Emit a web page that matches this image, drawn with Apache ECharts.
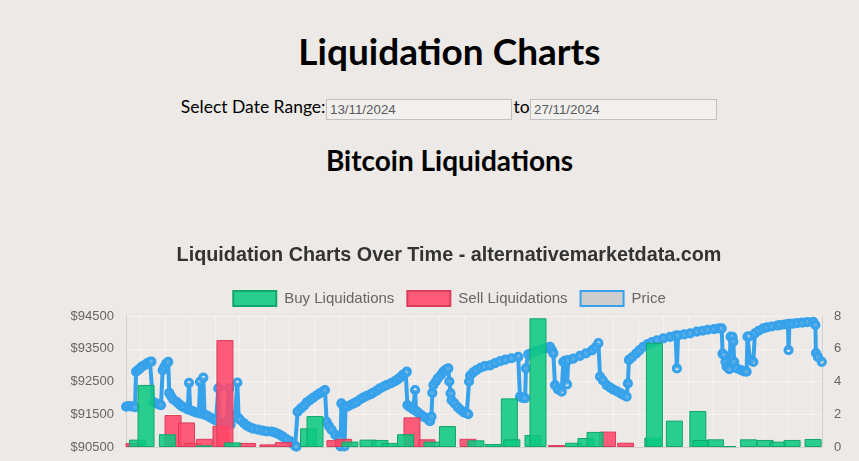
<!DOCTYPE html>
<html>
<head>
<meta charset="utf-8">
<title>Liquidation Charts</title>
<script src="https://cdn.jsdelivr.net/npm/echarts@6/dist/echarts.min.js"></script>
<style>
  html, body { margin: 0; padding: 0; width: 859px; height: 461px; overflow: hidden; background: #ece9e6; }
  .t1 { position: absolute; left: 40px; width: 819px; top: 31.5px; margin: 0; text-align: center;
        font: 700 37px/37px Lato, "Noto Sans", sans-serif; color: #000; }
  .lbl { position: absolute; top: 97.6px; font: 400 17.5px/17.5px Lato, "Noto Sans", sans-serif; color: #000; white-space: nowrap; }
  .inp { position: absolute; top: 99px; height: 21px; box-sizing: border-box; padding: 1px 3px;
         border: 1px solid #c2c0be; background: #f1f0ee; color: #5a5a5a;
         font: 13.33px "Liberation Sans", Arial, sans-serif; outline: none; }
  .t2 { position: absolute; left: 40px; width: 819px; top: 146px; margin: 0; text-align: center;
        font: 700 28px/28px Lato, "Noto Sans", sans-serif; color: #000; }
  #chart { position: absolute; left: 39px; top: 230px; width: 820px; height: 260px; }
</style>
</head>
<body>
<h1 class="t1">Liquidation Charts</h1>
<span class="lbl" style="right:533.5px;">Select Date Range:</span>
<input class="inp" style="left:326px;width:186px;" type="text" value="13/11/2024" readonly>
<span class="lbl" style="left:513.5px;">to</span>
<input class="inp" style="left:530px;width:187px;" type="text" value="27/11/2024" readonly>
<h2 class="t2">Bitcoin Liquidations</h2>
<div id="chart"></div>
<script>
// Time origin: 13/11/2024 00:00 UTC; all times below are hours after it.
const startDate = Date.UTC(2024, 10, 13);
const axisStartHour = 5.25;
const axisEndHour = 340.5;

const priceHours = [
  5.3, 6.5, 8.0, 9.6, 10.1, 11.0, 12.0, 13.0, 14.4, 15.5, 16.8, 17.5,
  18.3, 19.5, 21.0, 22.1, 22.9, 23.7, 24.6, 25.6, 26.1, 27.0, 28.0, 29.7,
  31.0, 32.2, 33.5, 35.0, 35.6, 36.2, 37.5, 39.0, 40.4, 40.9, 41.4, 42.5,
  43.1, 44.3, 46.0, 47.3, 48.6, 49.7, 50.3, 52.0, 53.5, 55.0, 55.6, 56.5,
  57.7, 58.9, 59.5, 60.2, 62.0, 63.4, 65.0, 66.5, 68.8, 71.0, 73.0, 75.4,
  77.0, 78.5, 80.0, 81.0, 82.5, 84.3, 85.5, 86.7, 87.3,
  87.9, 89.5, 91.0, 92.3, 94.0, 95.5, 97.1, 98.5, 100.0, 101.1, 101.9, 103.0,
  104.3, 106.0, 107.5, 108.3, 108.6, 109.0, 110.0, 110.5, 111.0, 112.0, 113.6, 115.0,
  116.4, 118.0, 119.5, 121.2, 123.0, 124.2, 126.0, 127.6, 129.5, 131.0, 133.0, 134.8,
  136.0, 137.2, 138.5, 140.0, 140.5,
  140.8, 141.8, 142.5, 143.6, 144.5, 145.0, 146.0, 147.3, 148.7, 150.1, 151.2, 151.7,
  152.4, 152.8, 153.3, 154.5, 155.5, 157.0, 158.1, 159.3, 160.5, 161.0, 161.6, 162.1,
  163.5, 165.0, 166.5, 168.0, 169.4, 170.1,
  170.5, 171.0, 172.5, 174.0, 176.0, 178.0, 180.6, 183.0, 185.5, 188.0, 191.0, 194.2,
  195.0, 196.3, 197.5, 197.9, 199.0, 200.5, 202.3, 204.0, 205.6, 207.5, 209.5, 210.5,
  211.1, 211.9, 213.3, 215.1, 215.9, 216.8, 217.7, 218.3, 220.7, 223.9, 226.8, 229.7,
  231.5, 232.8,
  233.6, 235.0, 236.8, 238.5, 240.0, 241.8, 243.5, 244.8, 246.4, 247.0, 247.5, 249.0,
  250.9, 252.5, 254.4, 256.5, 258.6, 261.0, 264.1, 267.3, 270.0, 270.6, 271.2, 274.1,
  277.0, 280.2, 283.0, 285.5, 288.5, 291.0, 292.2,
  292.6, 293.2, 294.0, 294.6, 295.8, 296.5, 297.4, 297.8, 298.2, 299.5, 301.5, 303.0,
  304.2, 304.6, 305.5, 305.8, 307.4, 308.2, 310.0, 312.2, 314.0, 316.4, 319.0, 320.3,
  322.5, 324.1, 324.4, 324.8, 326.5, 328.5, 331.0, 333.5, 336.3, 337.3, 337.6, 338.5,
  340.4
];
const priceValues = [
  91730, 91750, 91740, 91720, 92800, 92850, 92900, 92960, 93010, 93060, 93100, 93110,
  91880, 91840, 91800, 91780, 92850, 92950, 93050, 93100, 92150, 92050, 91950, 91880,
  91800, 91740, 91700, 91650, 92460, 91630, 91590, 91560, 91530, 92490, 91520, 92620,
  91490, 91460, 91400, 91350, 91310, 92290, 91260, 91230, 91200, 92290, 91180, 91400,
  91440, 92470, 91380, 91330, 91230, 91150, 91100, 91060, 91030, 91000, 90980, 90970,
  90940, 90900, 90850, 90810, 90740, 90680, 90600, 90530, 90510,
  91580, 91680, 91760, 91860, 91940, 92010, 92080, 92140, 92190, 92240, 91270, 91140,
  91020, 90880, 90780, 90740, 90520, 91830, 91740, 90520, 91720, 91740, 91790, 91830,
  91880, 91950, 92010, 92060, 92110, 92150, 92220, 92290, 92350, 92400, 92450, 92510,
  92560, 92620, 92700, 92760, 92800,
  91780, 91730, 91700, 91650, 92240, 91600, 91550, 91480, 91420, 91380, 91320, 91290,
  91430, 92150, 92390, 92500, 92600, 92700, 92800, 92860, 92900, 92500, 92140, 91930,
  91830, 91720, 91630, 91560, 91530, 91500,
  92500, 92680, 92780, 92850, 92920, 92970, 92990, 93060, 93120, 93170, 93210, 93250,
  92040, 92000, 91990, 92900, 93330, 93370, 93420, 93460, 93490, 93520, 93560, 93450,
  93360, 92390, 92260, 92190, 93100, 93140, 92410, 93150, 93200, 93280, 93360, 93450,
  93550, 93670,
  92650, 92530, 92390, 92310, 92250, 92200, 92140, 92090, 92040, 92440, 93160, 93240,
  93350, 93450, 93560, 93640, 93700, 93760, 93820, 93860, 93900, 92900, 93910, 93940,
  93970, 94020, 94050, 94080, 94100, 94120, 94120,
  93350, 93310, 93100, 92950, 92880, 93870, 93860, 93720, 93100, 92900, 92850, 92810,
  92800, 93870, 93880, 93160, 93100, 93970, 94050, 94120, 94150, 94180, 94210, 94220,
  94240, 94260, 93460, 94260, 94270, 94280, 94300, 94310, 94325, 94225, 93370, 93250,
  93100
];

const buyHours = [
  10.8, 14.9, 25.2, 42.8, 56.5, 93.2, 96.3, 113.1, 121.8, 127.6, 132.4, 139.9,
  152.6, 160.1, 173.8, 182.0, 189.9, 191.1, 201.3, 203.7, 220.8, 226.8, 231.2, 259.0,
  259.8, 269.4, 280.7, 282.2, 289.2, 295.2, 305.1, 313.1, 319.3, 326.1, 336.2
];
const buyValues = [
  0.45, 3.79, 0.78, 0.10, 0.28, 1.14, 1.89, 0.33, 0.45, 0.43, 0.25, 0.78,
  0.33, 1.28, 0.41, 0.18, 2.97, 0.47, 0.73, 7.86, 0.26, 0.55, 0.92, 0.57,
  6.37, 1.61, 2.20, 0.43, 0.47, 0.05, 0.47, 0.43, 0.33, 0.43, 0.49
];

const sellHours = [
  9.1, 27.9, 34.4, 37.5, 43.0, 51.0, 52.9, 63.8, 73.6, 81.1, 105.9, 110.1,
  143.0, 150.2, 170.0, 212.6, 237.2, 245.9
];
const sellValues = [
  0.24, 1.95, 1.50, 0.25, 0.50, 1.30, 6.53, 0.25, 0.16, 0.30, 0.42, 0.50,
  1.81, 0.47, 0.50, 0.12, 0.94, 0.26
];

const priceTicks = [90500, 91500, 92500, 93500, 94500];
const countTicks = [0, 2, 4, 6, 8];

const HOUR = 3600 * 1000;
const toTime = h => startDate + h * HOUR;
const pair = (hours, values) => hours.map((h, i) => [toTime(h), values[i]]);

// Layout
const GRID = { left: 87, right: 37, top: 86, height: 131 };
const CHART_WIDTH = 820;
const PLOT_WIDTH = CHART_WIDTH - GRID.left - GRID.right;
const BAR_WIDTH = 17;
// ECharts widens a time axis that carries bars by one bar width; pre-shrink so the
// final axis spans exactly axisStartHour .. axisEndHour.
const barPad = (axisEndHour - axisStartHour) * (BAR_WIDTH / PLOT_WIDTH) / 2;

const FONT = '"Liberation Sans", Arial, Helvetica, sans-serif';
const BLUE = '#36a2eb';
const GREEN_FILL = 'rgba(14,200,130,0.88)';
const GREEN_EDGE = '#13a56c';
const RED_FILL = 'rgba(255,70,105,0.87)';
const RED_EDGE = '#dc3c5b';
const GRID_COLOR = 'rgba(255,255,255,0.45)';
const AXIS_COLOR = '#d2cfcc';

const chart = echarts.init(document.getElementById('chart'), null, { renderer: 'canvas' });
chart.setOption({
  animation: false,
  useUTC: true,
  backgroundColor: 'transparent',
  title: {
    text: 'Liquidation Charts Over Time - alternativemarketdata.com',
    left: 'center',
    top: 11,
    textStyle: { fontFamily: FONT, fontWeight: 'bold', fontSize: 19.8, color: '#333333' }
  },
  legend: {
    top: 55,
    left: 'center',
    itemWidth: 43,
    itemHeight: 15,
    itemGap: 12,
    textStyle: { fontFamily: FONT, fontSize: 15, color: '#666666', padding: [0, 0, 0, 3] },
    data: [
      { name: 'Buy Liquidations', icon: 'rect', itemStyle: { color: GREEN_FILL, borderColor: GREEN_EDGE, borderWidth: 2 } },
      { name: 'Sell Liquidations', icon: 'rect', itemStyle: { color: RED_FILL, borderColor: RED_EDGE, borderWidth: 2 } },
      { name: 'Price', icon: 'rect', itemStyle: { color: '#cdcdcd', borderColor: BLUE, borderWidth: 2 } }
    ]
  },
  grid: { left: GRID.left, right: GRID.right, top: GRID.top, height: GRID.height, containLabel: false },
  xAxis: {
    type: 'time',
    min: toTime(axisStartHour + barPad),
    max: toTime(axisEndHour - barPad),
    minInterval: 13 * HOUR,
    maxInterval: 13 * HOUR,
    axisLabel: { show: false },
    axisTick: { show: false },
    axisLine: { show: true, lineStyle: { color: AXIS_COLOR, width: 1 } },
    splitLine: { show: true, lineStyle: { color: GRID_COLOR, width: 1 } }
  },
  yAxis: [
    {
      type: 'value',
      position: 'left',
      min: priceTicks[0],
      max: priceTicks[priceTicks.length - 1],
      interval: 500,
      axisLine: { show: true, lineStyle: { color: AXIS_COLOR } },
      axisTick: { show: false },
      splitLine: { show: false },
      axisLabel: {
        margin: 12, fontFamily: FONT, fontSize: 13, color: '#666666',
        formatter: v => (priceTicks.indexOf(v) >= 0 ? '$' + v : '')
      }
    },
    {
      type: 'value',
      position: 'right',
      min: countTicks[0],
      max: countTicks[countTicks.length - 1],
      interval: 2,
      axisLine: { show: true, lineStyle: { color: AXIS_COLOR } },
      axisTick: { show: false },
      splitLine: { show: true, lineStyle: { color: GRID_COLOR, width: 1 } },
      axisLabel: { margin: 12, fontFamily: FONT, fontSize: 13, color: '#666666' }
    }
  ],
  series: [
    {
      name: 'Price',
      type: 'line',
      yAxisIndex: 0,
      data: pair(priceHours, priceValues),
      showSymbol: true,
      showAllSymbol: true,
      symbol: 'circle',
      symbolSize: 7,
      lineStyle: { color: BLUE, width: 4 },
      itemStyle: { color: 'rgba(215,215,215,0.22)', borderColor: BLUE, borderWidth: 3.2 },
      z: 2
    },
    {
      name: 'Sell Liquidations',
      type: 'bar',
      yAxisIndex: 1,
      data: pair(sellHours, sellValues),
      barWidth: BAR_WIDTH,
      barGap: '-100%',
      itemStyle: { color: RED_FILL, borderColor: RED_EDGE, borderWidth: 1 },
      z: 3
    },
    {
      name: 'Buy Liquidations',
      type: 'bar',
      yAxisIndex: 1,
      data: pair(buyHours, buyValues),
      barWidth: BAR_WIDTH,
      barGap: '-100%',
      itemStyle: { color: GREEN_FILL, borderColor: GREEN_EDGE, borderWidth: 1 },
      z: 4
    }
  ]
});
</script>
</body>
</html>
